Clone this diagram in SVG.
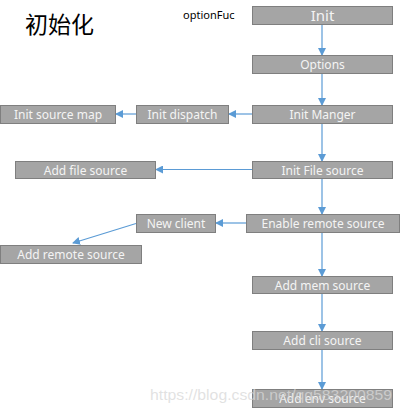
<svg xmlns="http://www.w3.org/2000/svg" width="400" height="414" viewBox="0 0 400 414">
<defs>
<marker id="ah" markerWidth="8" markerHeight="8" refX="7" refY="4" orient="auto" markerUnits="userSpaceOnUse">
<path d="M0,0 L8,4 L0,8 Z" fill="#5b9bd5"/>
</marker>
<style>
.box{fill:#a5a5a5;stroke:#7f7f7f;stroke-width:1}
.lbl{font-family:"Noto Sans","Liberation Sans",sans-serif;font-size:12px;fill:#f4f4f4;text-anchor:middle}
.con{stroke:#5b9bd5;stroke-width:1.2;fill:none;marker-end:url(#ah)}
</style>
</defs>
<rect width="400" height="414" fill="#ffffff"/>
<text x="25" y="33" font-family="'Noto Sans CJK SC',sans-serif" font-size="23" fill="#000">初始化</text>
<text x="183" y="19" font-family="'Noto Sans','Liberation Sans',sans-serif" font-size="11" fill="#000">optionFuc</text>
<g id="connectors">
<line class="con" x1="322" y1="24" x2="322" y2="55"/>
<line class="con" x1="322" y1="73" x2="322" y2="105"/>
<line class="con" x1="252" y1="114" x2="229" y2="114"/>
<line class="con" x1="136" y1="114" x2="116" y2="114"/>
<line class="con" x1="322" y1="123" x2="322" y2="161"/>
<line class="con" x1="252" y1="169.5" x2="156" y2="169.5"/>
<line class="con" x1="322" y1="178" x2="322" y2="214"/>
<line class="con" x1="246" y1="223" x2="216" y2="223"/>
<line class="con" x1="136" y1="223.5" x2="73" y2="243"/>
<line class="con" x1="322" y1="232" x2="322" y2="276"/>
<line class="con" x1="322" y1="293" x2="322" y2="331"/>
<line class="con" x1="322" y1="349" x2="322" y2="389"/>
</g>
<g id="init"><rect class="box" x="252.5" y="6.5" width="140" height="18"/><text class="lbl" x="322.5" y="21" style="font-size:15px">Init</text></g>
<g id="options"><rect class="box" x="252.5" y="55.5" width="140" height="18"/><text class="lbl" x="322.5" y="69">Options</text></g>
<g id="init-manger"><rect class="box" x="252.5" y="105.5" width="140" height="18"/><text class="lbl" x="322.5" y="119">Init Manger</text></g>
<g id="init-dispatch"><rect class="box" x="136.5" y="105.5" width="92" height="18"/><text class="lbl" x="182.5" y="119">Init dispatch</text></g>
<g id="init-source-map"><rect class="box" x="0.5" y="105.5" width="115" height="18"/><text class="lbl" x="58" y="119">Init source  map</text></g>
<g id="init-file-source"><rect class="box" x="252.5" y="161.5" width="140" height="17"/><text class="lbl" x="322.5" y="174.5">Init File source</text></g>
<g id="add-file-source"><rect class="box" x="15.5" y="161.5" width="140" height="17"/><text class="lbl" x="85.5" y="174.5">Add  file source</text></g>
<g id="enable-remote-source"><rect class="box" x="246.5" y="214.5" width="153" height="18"/><text class="lbl" x="323" y="228">Enable remote source</text></g>
<g id="new-client"><rect class="box" x="136.5" y="214.5" width="79" height="18"/><text class="lbl" x="176" y="228">New client</text></g>
<g id="add-remote-source"><rect class="box" x="0.5" y="245.5" width="141" height="18"/><text class="lbl" x="71" y="259">Add  remote source</text></g>
<g id="add-mem-source"><rect class="box" x="252.5" y="276.5" width="140" height="17"/><text class="lbl" x="322.5" y="289.5">Add  mem source</text></g>
<g id="add-cli-source"><rect class="box" x="252.5" y="331.5" width="140" height="18"/><text class="lbl" x="322.5" y="345">Add  cli source</text></g>
<g id="add-env-source"><rect class="box" x="252.5" y="389.5" width="140" height="18"/><text class="lbl" x="322.5" y="403">Add  env  source</text></g>
<text x="150" y="400" font-family="'Liberation Sans',sans-serif" font-size="15" fill="#d8d8d8" fill-opacity="0.75" textLength="242" lengthAdjust="spacingAndGlyphs">https://blog.csdn.net/qq583200859</text>
</svg>
